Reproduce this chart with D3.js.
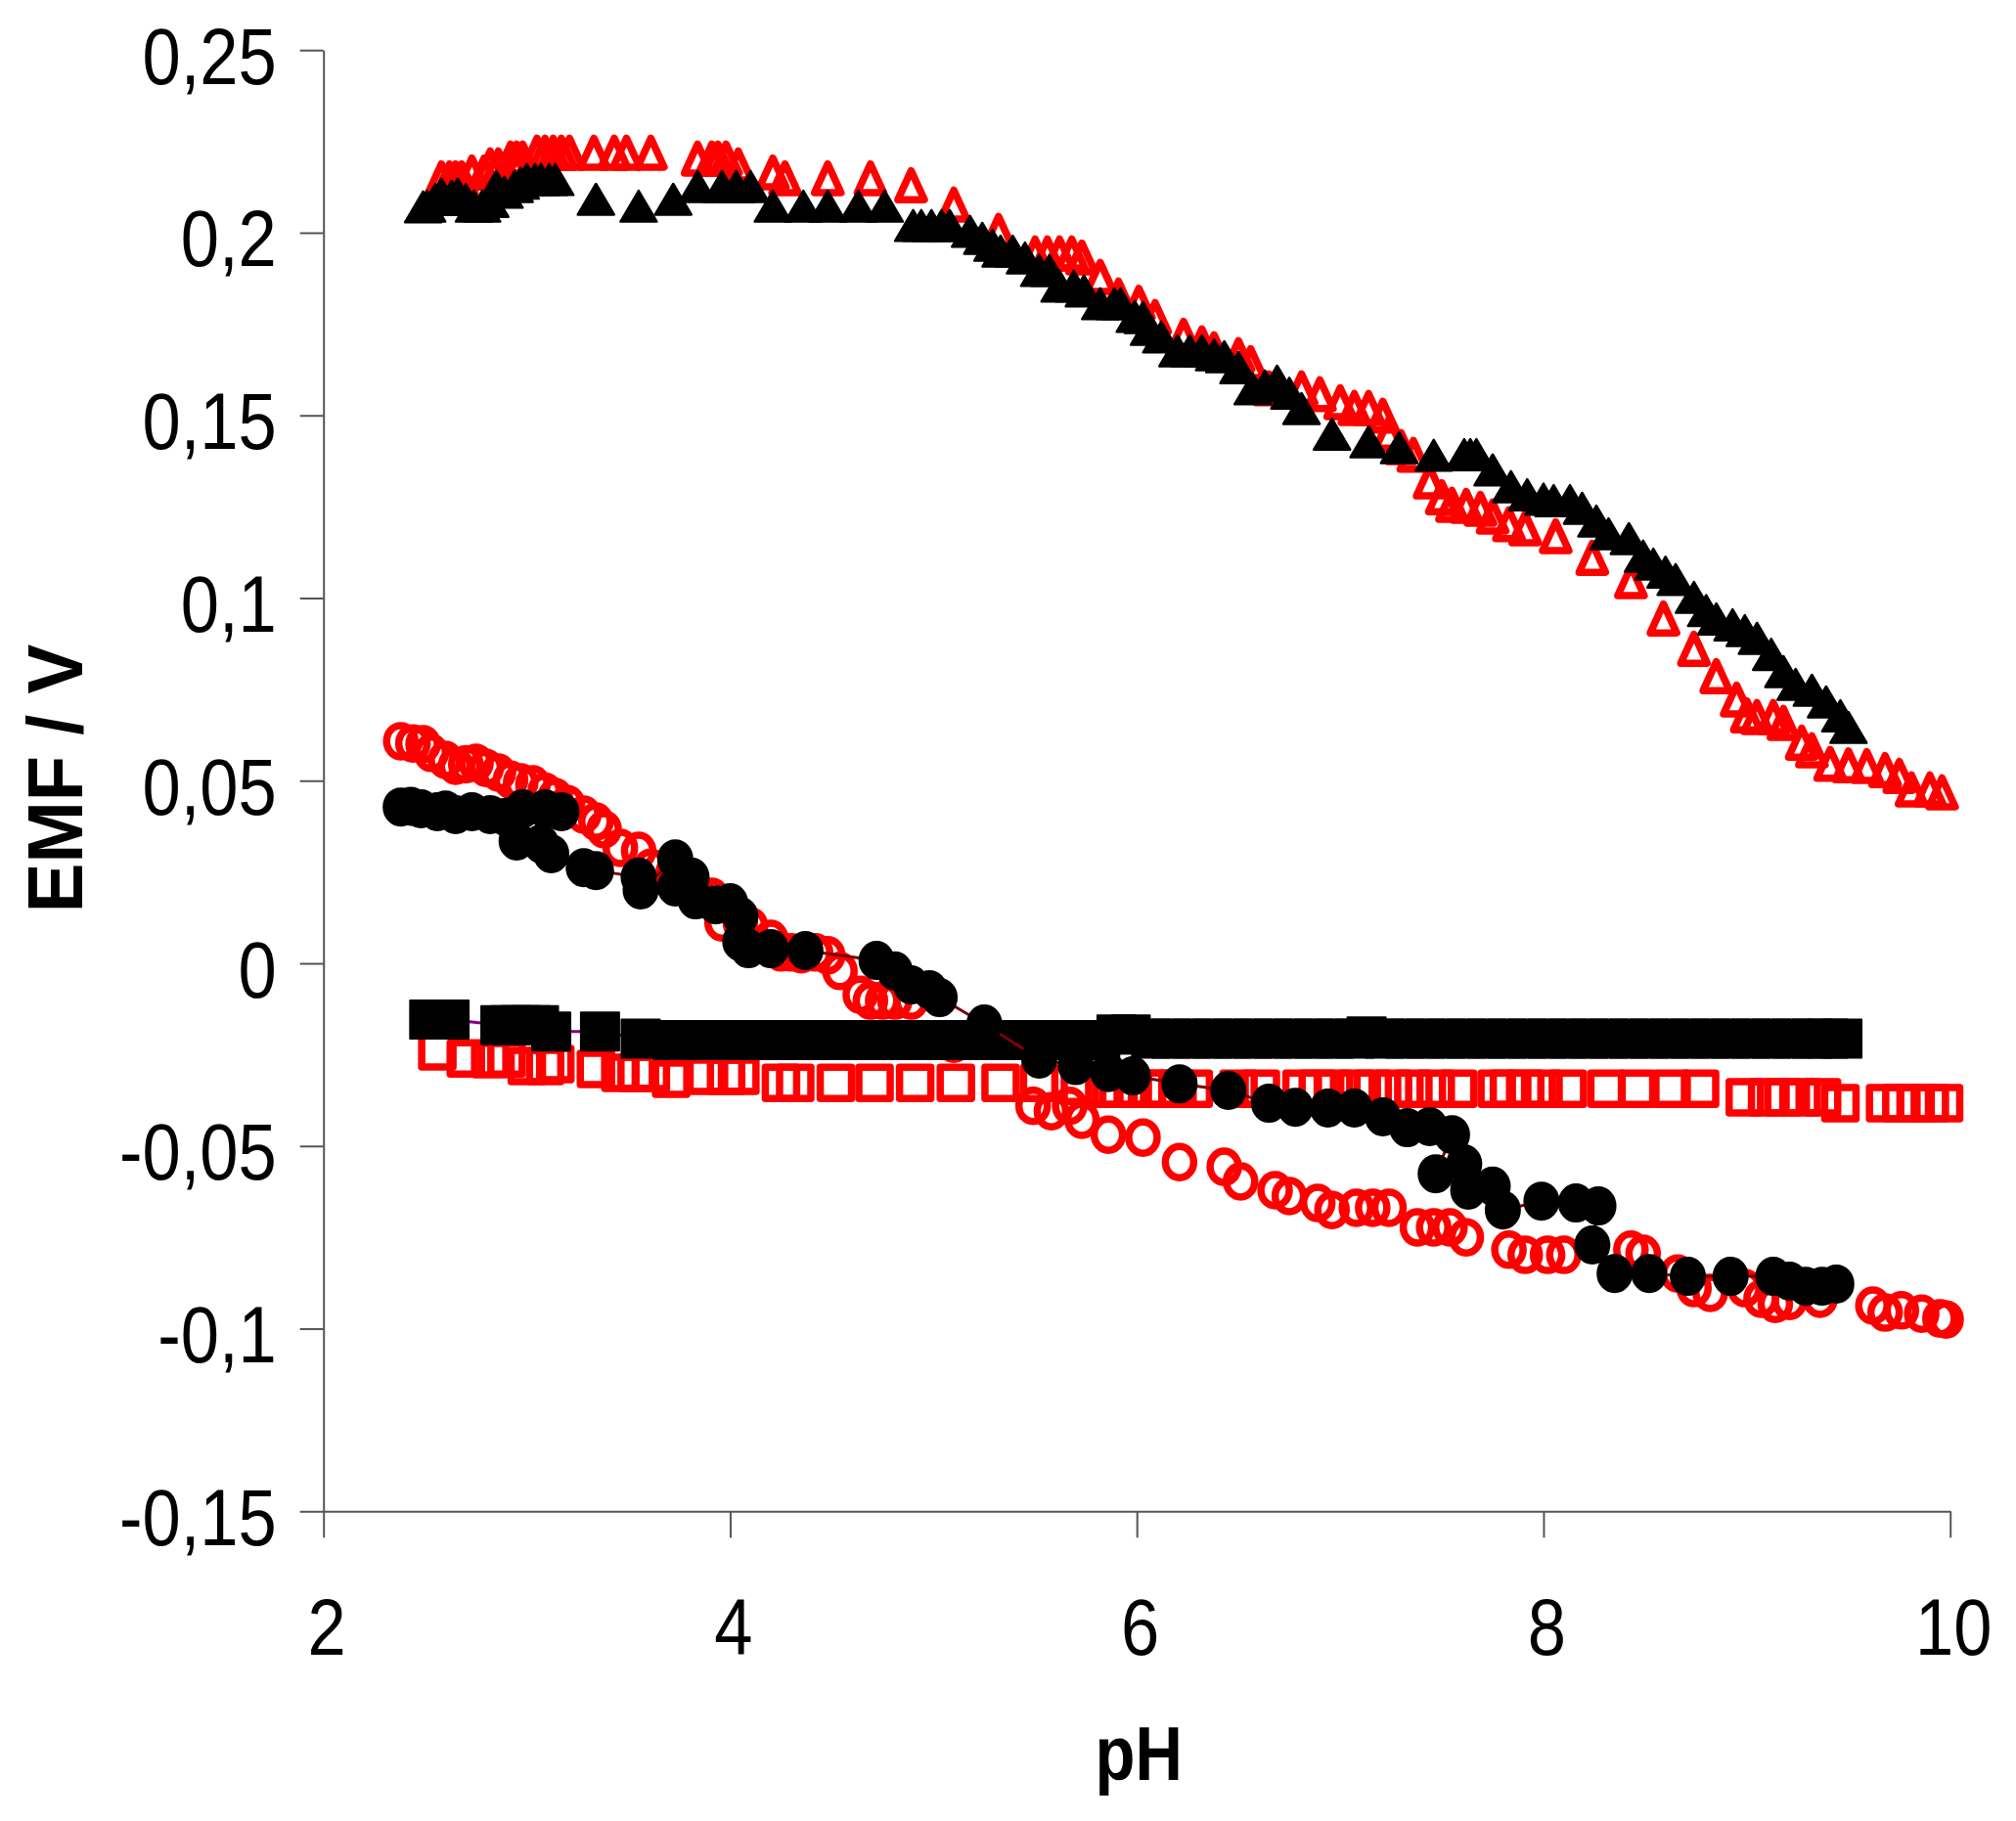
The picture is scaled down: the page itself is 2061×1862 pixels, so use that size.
<!DOCTYPE html>
<html>
<head>
<meta charset="utf-8">
<script src="https://cdn.jsdelivr.net/npm/d3@7"></script>
<style>
  html, body { margin: 0; padding: 0; background: #ffffff; }
  svg { display: block; }
  text { font-family: "Liberation Sans", Arial, Helvetica, sans-serif; }
</style>
</head>
<body>
<svg id="chart" width="2061" height="1862"></svg>
<script>
// ---------------- data ----------------
const xTicks = [2, 4, 6, 8, 10];
const xTickLabels = ["2", "4", "6", "8", "10"];
const yTicks = [0.25, 0.2, 0.15, 0.1, 0.05, 0, -0.05, -0.1, -0.15];
const yTickLabels = ["0,25", "0,2", "0,15", "0,1", "0,05", "0", "-0,05", "-0,1", "-0,15"];
const xTitle = "pH";
const yTitle = "EMF / V";

// red open triangles
const redTriPH = [2.58,2.62,2.65,2.68,2.73,2.79,2.82,2.86,2.92,2.95,2.98,3.05,3.09,3.13,3.17,3.21,3.33,3.43,3.49,3.61,
  3.84,3.91,3.94,3.98,4.04,4.21,4.27,4.48,4.69,4.89,5.10,5.32,5.50,5.56,5.62,5.68,5.73,5.82,5.91,6.01,6.09,6.23,6.32,
  6.38,6.50,6.56,6.65,6.81,6.90,7.00,7.07,7.14,7.21,7.24,7.30,7.36,7.44,7.50,7.55,7.62,7.69,7.75,7.83,7.91,8.06,8.24,
  8.43,8.59,8.74,8.85,8.95,9.00,9.05,9.13,9.18,9.27,9.32,9.41,9.50,9.59,9.68,9.75,9.81,9.90,9.96];
const redTriEMF = [0.2147,0.2147,0.2147,0.2147,0.2163,0.2163,0.2182,0.2182,0.2201,0.2201,0.2201,0.2217,0.2217,0.2217,0.2217,0.2217,0.2217,0.2217,0.2217,0.2217,
  0.2201,0.2201,0.2201,0.2201,0.2182,0.2163,0.2147,0.2147,0.2147,0.2128,0.2075,0.2003,0.1941,0.1941,0.1941,0.1941,0.1930,0.1877,0.1826,0.1806,0.1767,0.1716,0.1695,
  0.1679,0.1663,0.1641,0.1572,0.1572,0.1556,0.1534,0.1518,0.1518,0.1497,0.1448,0.1411,0.1390,0.1317,0.1274,0.1253,0.1250,0.1242,0.1221,0.1200,0.1189,0.1167,0.1108,
  0.1044,0.0942,0.0859,0.0784,0.0720,0.0677,0.0672,0.0672,0.0656,0.0602,0.0581,0.0544,0.0540,0.0538,0.0527,0.0511,0.0474,0.0474,0.0466];

// black filled triangles
const blackTriPH = [2.49,2.51,2.55,2.58,2.63,2.66,2.70,2.74,2.78,2.82,2.85,2.89,2.94,2.97,3.00,3.04,3.07,3.11,3.14,3.34,
  3.55,3.72,3.84,3.96,4.03,4.10,4.21,4.36,4.48,4.63,4.76,4.90,4.94,4.99,5.04,5.08,5.18,5.24,5.29,5.33,5.39,5.45,5.52,
  5.57,5.62,5.69,5.74,5.82,5.89,5.92,5.99,6.03,6.06,6.12,6.20,6.26,6.32,6.38,6.43,6.50,6.57,6.63,6.69,6.75,6.81,6.96,
  7.14,7.29,7.46,7.61,7.64,7.67,7.75,7.84,7.92,8.00,8.05,8.13,8.19,8.26,8.32,8.42,8.49,8.54,8.60,8.65,8.74,8.80,8.85,
  8.93,8.99,9.05,9.12,9.18,9.24,9.32,9.39,9.46,9.50];
const blackTriEMF = [0.2070,0.2072,0.2090,0.2105,0.2099,0.2105,0.2090,0.2072,0.2072,0.2085,0.2126,0.2110,0.2126,0.2135,0.2145,0.2145,0.2145,0.2145,0.2145,0.2091,
  0.2072,0.2091,0.2126,0.2126,0.2126,0.2126,0.2072,0.2072,0.2072,0.2072,0.2072,0.2019,0.2019,0.2019,0.2019,0.2019,0.2003,0.1984,0.1965,0.1949,0.1949,0.1930,0.1896,
  0.1896,0.1853,0.1853,0.1840,0.1805,0.1805,0.1805,0.1770,0.1767,0.1735,0.1714,0.1676,0.1676,0.1676,0.1665,0.1660,0.1630,0.1572,0.1580,0.1593,0.1560,0.1518,0.1448,
  0.1427,0.1411,0.1390,0.1392,0.1392,0.1392,0.1350,0.1304,0.1282,0.1270,0.1266,0.1266,0.1245,0.1210,0.1175,0.1162,0.1114,0.1092,0.1070,0.1050,0.1001,0.0965,0.0942,
  0.0926,0.0910,0.0889,0.0845,0.0798,0.0763,0.0747,0.0715,0.0677,0.0645];

// red open circles
const redCirPH = [2.38,2.44,2.49,2.53,2.60,2.65,2.70,2.75,2.80,2.86,2.92,2.97,3.03,3.09,3.14,3.20,3.28,3.34,3.38,3.46,
  3.55,3.61,3.72,3.83,3.91,3.96,4.05,4.10,4.20,4.25,4.30,4.35,4.42,4.48,4.54,4.64,4.69,4.75,4.81,4.89,5.10,5.49,5.58,
  5.67,5.73,5.86,6.03,6.21,6.43,6.51,6.68,6.75,6.89,6.96,7.08,7.16,7.24,7.38,7.46,7.54,7.62,7.83,7.91,8.02,8.10,8.43,
  8.49,8.66,8.74,8.82,8.99,9.07,9.14,9.21,9.36,9.62,9.68,9.76,9.86,9.95,9.98];
const redCirEMF = [0.0608,0.0602,0.0600,0.0576,0.0557,0.0541,0.0545,0.0549,0.0535,0.0522,0.0503,0.0495,0.0490,0.0470,0.0455,0.0436,0.0407,0.0388,0.0367,0.0316,
  0.0308,0.0262,0.0249,0.0201,0.0182,0.0112,0.0112,0.0102,0.0067,0.0030,0.0030,0.0025,0.0030,0.0022,-0.0021,-0.0086,-0.0102,-0.0102,-0.0102,-0.0102,-0.0220,-0.0390,-0.0405,
  -0.0390,-0.0428,-0.0469,-0.0477,-0.0544,-0.0557,-0.0597,-0.0621,-0.0637,-0.0656,-0.0675,-0.0669,-0.0669,-0.0669,-0.0723,-0.0723,-0.0723,-0.0750,-0.0784,-0.0798,-0.0798,-0.0798,-0.0784,
  -0.0795,-0.0849,-0.0889,-0.0902,-0.0889,-0.0918,-0.0932,-0.0924,-0.0918,-0.0937,-0.0956,-0.0950,-0.0959,-0.0972,-0.0975];

// black filled circles
const blackCirPH = [2.38,2.43,2.48,2.56,2.60,2.65,2.73,2.82,2.90,2.98,3.09,3.17,2.95,3.07,3.12,3.28,3.34,3.55,3.56,3.73,
  3.81,3.73,3.83,3.93,4.00,4.05,4.05,4.09,4.20,4.37,4.72,4.81,4.89,4.98,5.03,5.25,5.52,5.70,5.86,5.98,6.21,6.45,6.65,
  6.78,6.94,7.07,7.21,7.33,7.44,7.55,7.47,7.61,7.63,7.75,7.80,7.99,8.16,8.27,8.24,8.35,8.52,8.71,8.92,9.13,9.21,9.29,
  9.37,9.44];
const blackCirEMF = [0.0428,0.0430,0.0423,0.0415,0.0420,0.0407,0.0415,0.0407,0.0400,0.0423,0.0423,0.0415,0.0335,0.0327,0.0300,0.0262,0.0254,0.0236,0.0201,0.0286,
  0.0236,0.0209,0.0174,0.0160,0.0166,0.0129,0.0059,0.0040,0.0040,0.0035,0.0008,-0.0021,-0.0059,-0.0072,-0.0094,-0.0166,-0.0262,-0.0280,-0.0299,-0.0308,-0.0330,-0.0348,-0.0383,
  -0.0394,-0.0396,-0.0396,-0.0420,-0.0450,-0.0447,-0.0469,-0.0576,-0.0549,-0.0621,-0.0610,-0.0675,-0.0651,-0.0656,-0.0664,-0.0771,-0.0849,-0.0849,-0.0857,-0.0857,-0.0857,-0.0870,-0.0884,
  -0.0884,-0.0878];

// red open squares
const redSqPH = [2.56,2.70,2.82,2.90,3.00,3.09,3.14,3.34,3.46,3.54,3.61,3.71,3.88,3.98,4.05,4.25,4.32,4.52,4.71,4.91,
  5.11,5.33,5.52,5.72,5.84,5.91,5.98,6.05,6.11,6.20,6.28,6.50,6.61,6.81,6.89,6.97,7.08,7.16,7.26,7.36,7.47,7.58,7.77,
  7.83,7.91,8.00,8.12,8.31,8.46,8.63,8.77,8.99,9.10,9.18,9.27,9.37,9.46,9.68,9.76,9.83,9.90,9.97];
const redSqEMF = [-0.0241,-0.0260,-0.0262,-0.0260,-0.0281,-0.0281,-0.0276,-0.0289,-0.0300,-0.0300,-0.0300,-0.0316,-0.0308,-0.0308,-0.0308,-0.0327,-0.0327,-0.0327,-0.0327,-0.0327,
  -0.0327,-0.0327,-0.0327,-0.0335,-0.0343,-0.0343,-0.0343,-0.0343,-0.0343,-0.0343,-0.0343,-0.0343,-0.0343,-0.0343,-0.0343,-0.0343,-0.0343,-0.0343,-0.0343,-0.0343,-0.0343,-0.0343,-0.0343,
  -0.0343,-0.0343,-0.0343,-0.0343,-0.0343,-0.0343,-0.0343,-0.0343,-0.0367,-0.0367,-0.0367,-0.0367,-0.0367,-0.0383,-0.0383,-0.0383,-0.0383,-0.0383,-0.0383];

// black filled squares
const blackSqPH = [2.52,2.57,2.62,2.87,2.92,2.97,3.02,3.06,3.12,3.36,3.56,3.72,3.82,3.92,4.02,4.12,4.22,4.32,4.42,4.52,
  4.62,4.72,4.82,4.92,5.02,5.12,5.22,5.32,5.42,5.52,5.62,5.72,5.82,5.90,5.97,6.07,6.17,6.27,6.37,6.47,6.57,6.67,6.77,
  6.87,6.97,7.07,7.13,7.22,7.32,7.42,7.52,7.62,7.72,7.82,7.92,8.02,8.12,8.22,8.32,8.42,8.52,8.62,8.72,8.82,8.92,9.02,
  9.12,9.22,9.32,9.40,9.47];
const blackSqEMF = [-0.0154,-0.0154,-0.0154,-0.0169,-0.0169,-0.0169,-0.0169,-0.0169,-0.0187,-0.0187,-0.0206,-0.0210,-0.0210,-0.0210,-0.0210,-0.0210,-0.0210,-0.0210,-0.0210,-0.0210,
  -0.0210,-0.0210,-0.0210,-0.0210,-0.0210,-0.0210,-0.0210,-0.0210,-0.0210,-0.0210,-0.0210,-0.0210,-0.0210,-0.0195,-0.0195,-0.0206,-0.0206,-0.0206,-0.0206,-0.0206,-0.0206,-0.0206,-0.0206,
  -0.0206,-0.0206,-0.0206,-0.0200,-0.0206,-0.0206,-0.0206,-0.0206,-0.0206,-0.0206,-0.0206,-0.0206,-0.0206,-0.0206,-0.0206,-0.0206,-0.0206,-0.0206,-0.0206,-0.0206,-0.0206,-0.0206,-0.0206,
  -0.0206,-0.0206,-0.0206,-0.0206,-0.0206];

// ---------------- drawing ----------------
const svg = d3.select("#chart");
const x = d3.scaleLinear().domain([2, 10]).range([330.7, 1993.7]);
const y = d3.scaleLinear().domain([-0.15, 0.25]).range([1545.3, 51.2]);

const zip = (a, b) => a.map((v, i) => ({ ph: v, emf: b[i] }));

const shapes = {
  redTri: "M0,-15.5 L13.5,14 L-13.5,14 Z",
  blackTri: "M0,-16 L18.5,15.5 L-18.5,15.5 Z",
  redSq: "M-16,-16 H16 V16 H-16 Z",
  blackSq: "M-19.5,-19.5 H19.5 V19.5 H-19.5 Z"
};

function drawLine(data, color) {
  svg.append("path")
    .datum(data)
    .attr("fill", "none")
    .attr("stroke", color)
    .attr("stroke-width", 3)
    .attr("d", d3.line().x(d => x(d.ph)).y(d => y(d.emf)));
}

function drawPaths(data, shape, fill, stroke, sw) {
  svg.append("g").selectAll("path").data(data).join("path")
    .attr("d", shape)
    .attr("transform", d => `translate(${x(d.ph)},${y(d.emf)})`)
    .attr("fill", fill)
    .attr("stroke", stroke)
    .attr("stroke-width", sw)
    .attr("stroke-linejoin", "round");
}

function drawEllipses(data, rx, ry, fill, stroke, sw) {
  svg.append("g").selectAll("ellipse").data(data).join("ellipse")
    .attr("cx", d => x(d.ph))
    .attr("cy", d => y(d.emf))
    .attr("rx", rx).attr("ry", ry)
    .attr("fill", fill)
    .attr("stroke", stroke)
    .attr("stroke-width", sw);
}

// series (drawing order)
drawPaths(zip(redSqPH, redSqEMF), shapes.redSq, "none", "#ff0000", 7.5);
drawEllipses(zip(redCirPH, redCirEMF), 14.5, 16, "none", "#ff0000", 7.5);
drawPaths(zip(redTriPH, redTriEMF), shapes.redTri, "none", "#ff0000", 7.5);
drawLine(zip(blackSqPH, blackSqEMF), "#800080");
drawPaths(zip(blackSqPH, blackSqEMF), shapes.blackSq, "#000000", "#000000", 2);
drawLine(zip(blackCirPH, blackCirEMF), "#800000");
drawEllipses(zip(blackCirPH, blackCirEMF), 17.5, 19, "#000000", "#000000", 2);
drawPaths(zip(blackTriPH, blackTriEMF), shapes.blackTri, "#000000", "#000000", 2.5);

// axes
const axisColor = "#555555";
const gy = svg.append("g")
  .attr("transform", `translate(${x(2)},0)`)
  .call(d3.axisLeft(y).tickValues(yTicks).tickSize(24).tickSizeOuter(0)
    .tickFormat((d, i) => yTickLabels[i]));
gy.select(".domain").attr("stroke", axisColor).attr("stroke-width", 2);
gy.selectAll(".tick line").attr("stroke", axisColor).attr("stroke-width", 2);
gy.selectAll(".tick text")
  .attr("x", 0).attr("y", 0).attr("dy", null)
  .attr("text-anchor", "end")
  .attr("transform", "translate(-48,34) scale(0.87,1)")
  .attr("font-size", 81)
  .attr("font-family", '"Liberation Sans", Arial, sans-serif')
  .attr("fill", "#000");

const gx = svg.append("g")
  .attr("transform", `translate(0,${y(-0.15)})`)
  .call(d3.axisBottom(x).tickValues(xTicks).tickSize(27).tickSizeOuter(0)
    .tickFormat((d, i) => xTickLabels[i]));
gx.select(".domain").attr("stroke", axisColor).attr("stroke-width", 2);
gx.selectAll(".tick line").attr("stroke", axisColor).attr("stroke-width", 2);
gx.selectAll(".tick text")
  .attr("x", 0).attr("y", 0).attr("dy", null)
  .attr("text-anchor", "middle")
  .attr("transform", "translate(3,147) scale(0.87,1)")
  .attr("font-size", 81)
  .attr("font-family", '"Liberation Sans", Arial, sans-serif')
  .attr("fill", "#000");

// axis titles
svg.append("text")
  .attr("transform", `translate(${(x(2) + x(10)) / 2 + 2},1820) scale(0.87,1)`)
  .attr("text-anchor", "middle")
  .attr("font-size", 77)
  .attr("font-weight", "bold")
  .attr("fill", "#000")
  .text(xTitle);

svg.append("text")
  .attr("transform", "translate(84,796) rotate(-90) scale(0.95,1)")
  .attr("text-anchor", "middle")
  .attr("font-size", 80)
  .attr("font-weight", "bold")
  .attr("fill", "#000")
  .text(yTitle);
</script>
</body>
</html>
